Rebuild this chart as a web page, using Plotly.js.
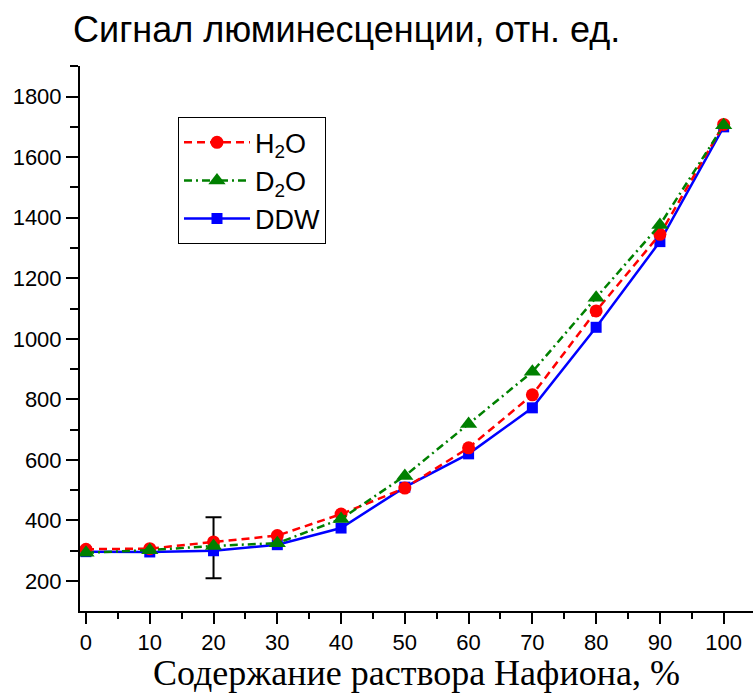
<!DOCTYPE html>
<html>
<head>
<meta charset="utf-8">
<script src="https://cdn.plot.ly/plotly-3.0.1.min.js"></script>
<style>html,body{margin:0;padding:0;background:#fff;}#chart{width:753px;height:693px;}</style>
</head>
<body>
<div id="chart"></div>
<script>
const nafion = [0, 10, 20, 30, 40, 50, 60, 70, 80, 90, 100];
const h2o = [305, 307, 329, 350, 421, 507, 640, 815, 1092, 1345, 1708];
const d2o = [293, 302, 316, 325, 405, 547, 719, 891, 1136, 1376, 1705];
const ddw = [297, 296, 300, 320, 375, 510, 620, 772, 1038, 1321, 1700];
const errX = [20];
const errY = [310];
const errSize = [101];
const names = ['H<sub>2</sub>O', 'D<sub>2</sub>O', 'DDW'];
const xTickVals = [0, 10, 20, 30, 40, 50, 60, 70, 80, 90, 100];

const traces = [
  {x: errX, y: errY, type: 'scatter', mode: 'markers', showlegend: false, hoverinfo: 'skip',
   marker: {opacity: 0, size: 1},
   error_y: {type: 'data', array: errSize, visible: true, color: '#000', thickness: 2, width: 8}},
  {x: nafion, y: ddw, name: names[2], type: 'scatter', mode: 'lines+markers', legendrank: 3,
   line: {color: '#0000ff', width: 2.5, dash: 'solid'},
   marker: {symbol: 'square', size: 11, color: '#0000ff'}},
  {x: nafion, y: h2o, name: names[0], type: 'scatter', mode: 'lines+markers', legendrank: 1,
   line: {color: '#ff0000', width: 2.5, dash: '8px,5px'},
   marker: {symbol: 'circle', size: 13, color: '#ff0000'}},
  {x: nafion, y: d2o, name: names[1], type: 'scatter', mode: 'lines+markers', legendrank: 2,
   line: {color: '#008000', width: 2.5, dash: '8px,4px,2px,4px'},
   marker: {symbol: 'triangle-up', size: 15, color: '#008000'}}
];

const layout = {
  width: 753, height: 693,
  paper_bgcolor: '#fff', plot_bgcolor: '#fff',
  margin: {l: 80, r: 0, t: 66, b: 82},
  font: {family: 'Liberation Sans, Arial, sans-serif', color: '#000'},
  title: {text: 'Сигнал люминесценции, отн. ед.', xref: 'container', yref: 'container',
          x: 0.097, xanchor: 'left', y: 0.958, yanchor: 'middle',
          font: {family: 'Liberation Sans, Arial, sans-serif', size: 36, color: '#000'}},
  xaxis: {
    range: [-0.94, 104.6], tickvals: xTickVals, ticktext: xTickVals.map(String),
    showgrid: false, zeroline: false, showline: true, linecolor: '#000', linewidth: 2,
    ticks: 'outside', ticklen: 11, tickwidth: 2, tickcolor: '#000',
    minor: {dtick: 5, tick0: 0, ticks: 'outside', ticklen: 6, tickwidth: 2, tickcolor: '#000', showgrid: false},
    tickfont: {family: 'Liberation Sans, Arial, sans-serif', size: 22, color: '#000'},
    title: {text: 'Содержание раствора Нафиона, %', standoff: 8,
            font: {family: 'Liberation Serif, Times New Roman, serif', size: 36, color: '#000'}}
  },
  yaxis: {
    range: [101, 1901], tick0: 0, dtick: 200,
    showgrid: false, zeroline: false, showline: true, linecolor: '#000', linewidth: 2,
    ticks: 'outside', ticklen: 12, tickwidth: 2, tickcolor: '#000',
    minor: {dtick: 100, tick0: 0, ticks: 'outside', ticklen: 8, tickwidth: 2, tickcolor: '#000', showgrid: false},
    tickfont: {family: 'Liberation Sans, Arial, sans-serif', size: 22, color: '#000'}
  },
  legend: {
    x: 0.1456, y: 0.906, xanchor: 'left', yanchor: 'top',
    bordercolor: '#000', borderwidth: 1, bgcolor: '#fff',
    font: {family: 'Liberation Sans, Arial, sans-serif', size: 27, color: '#000'},
    itemwidth: 66, tracegroupgap: 0
  },
  showlegend: true
};

Plotly.newPlot('chart', traces, layout, {displayModeBar: false, staticPlot: true});
</script>
</body>
</html>
